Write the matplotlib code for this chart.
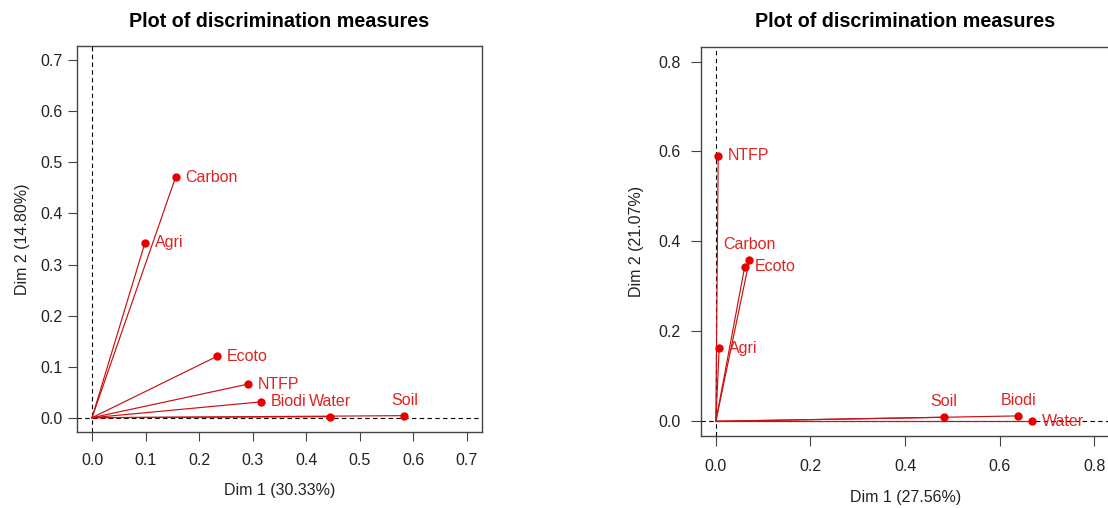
import matplotlib
matplotlib.use("Agg")
import matplotlib.pyplot as plt

plt.rcParams['font.family'] = ['Liberation Sans', 'DejaVu Sans']

# Discrimination measures, first analysis
left_vars = ["Carbon", "Agri", "Ecoto", "NTFP", "Biodi", "Water", "Soil"]
left_dim1 = [0.156, 0.099, 0.233, 0.292, 0.315, 0.445, 0.583]
left_dim2 = [0.471, 0.343, 0.120, 0.066, 0.031, 0.002, 0.004]
left_label_pos = ["right", "right", "right", "right", "right", "above", "above"]
left_xlabel = "Dim 1 (30.33%)"
left_ylabel = "Dim 2 (14.80%)"
left_ticks = [0.0, 0.1, 0.2, 0.3, 0.4, 0.5, 0.6, 0.7]

# Discrimination measures, second analysis
right_vars = ["NTFP", "Carbon", "Ecoto", "Agri", "Soil", "Biodi", "Water"]
right_dim1 = [0.005, 0.071, 0.061, 0.007, 0.482, 0.639, 0.669]
right_dim2 = [0.591, 0.359, 0.344, 0.162, 0.009, 0.012, 0.000]
right_label_pos = ["right", "above", "right", "right", "above", "above", "right"]
right_xlabel = "Dim 1 (27.56%)"
right_ylabel = "Dim 2 (21.07%)"
right_ticks = [0.0, 0.2, 0.4, 0.6, 0.8]

TITLE = "Plot of discrimination measures"
LINE_RED = "#C81010"
POINT_RED = "#E80000"
TEXT_RED = "#E02222"
DARK = "#222222"
FS = 11.5

fig = plt.figure(figsize=(11.08, 5.08), dpi=100)


def draw_panel(ax, names, d1, d2, pos, xlabel, ylabel, ticks, lim,
               xpad, ypad, ticklen, xlabelpad, ylabelpad):
    ax.set_xlim(*lim)
    ax.set_ylim(*lim)
    ax.axhline(0, color="black", lw=0.8, ls=(0, (4, 3)), zorder=1)
    ax.axvline(0, color="black", lw=0.8, ls=(0, (4, 3)), zorder=1)
    for x, y in zip(d1, d2):
        ax.plot([0, x], [0, y], color=LINE_RED, lw=0.85, zorder=2)
    ax.plot(d1, d2, "o", color=POINT_RED, ms=5, zorder=3)
    for name, x, y, p in zip(names, d1, d2, pos):
        if p == "right":
            ax.annotate(name, (x, y), xytext=(7, 0), textcoords="offset points",
                        ha="left", va="center", color=TEXT_RED, fontsize=FS)
        else:
            ax.annotate(name, (x, y), xytext=(0, 11), textcoords="offset points",
                        ha="center", va="center", color=TEXT_RED, fontsize=FS)
    ax.set_xticks(ticks)
    ax.set_yticks(ticks)
    ax.set_xticklabels([f"{t:.1f}" for t in ticks])
    ax.set_yticklabels([f"{t:.1f}" for t in ticks])
    ax.tick_params(axis="x", direction="out", length=ticklen, width=0.8, pad=xpad,
                   labelsize=FS, colors="#444444", labelcolor=DARK)
    ax.tick_params(axis="y", direction="out", length=ticklen, width=0.8, pad=ypad,
                   labelsize=FS, colors="#444444", labelcolor=DARK)
    for s in ax.spines.values():
        s.set_color("#444444")
        s.set_linewidth(1.0)
    ax.set_xlabel(xlabel, fontsize=FS, color=DARK, labelpad=xlabelpad)
    ax.set_ylabel(ylabel, fontsize=FS, color=DARK, labelpad=ylabelpad)
    ax.set_title(TITLE, fontsize=14.2, fontweight="bold", color="black", pad=14)


ax1 = fig.add_axes([77 / 1108, 1 - 432 / 508, 405 / 1108, 386 / 508])
draw_panel(ax1, left_vars, left_dim1, left_dim2, left_label_pos,
           left_xlabel, left_ylabel, left_ticks, (-0.028, 0.728),
           xpad=8.5, ypad=4, ticklen=6.5, xlabelpad=11, ylabelpad=7)

ax2 = fig.add_axes([700.7 / 1108, 1 - 435.7 / 508, 409.3 / 1108, 389 / 508])
draw_panel(ax2, right_vars, right_dim1, right_dim2, right_label_pos,
           right_xlabel, right_ylabel, right_ticks, (-0.032, 0.833),
           xpad=10, ypad=7.5, ticklen=7, xlabelpad=11.5, ylabelpad=10)

fig.savefig("out.png", dpi=100)
